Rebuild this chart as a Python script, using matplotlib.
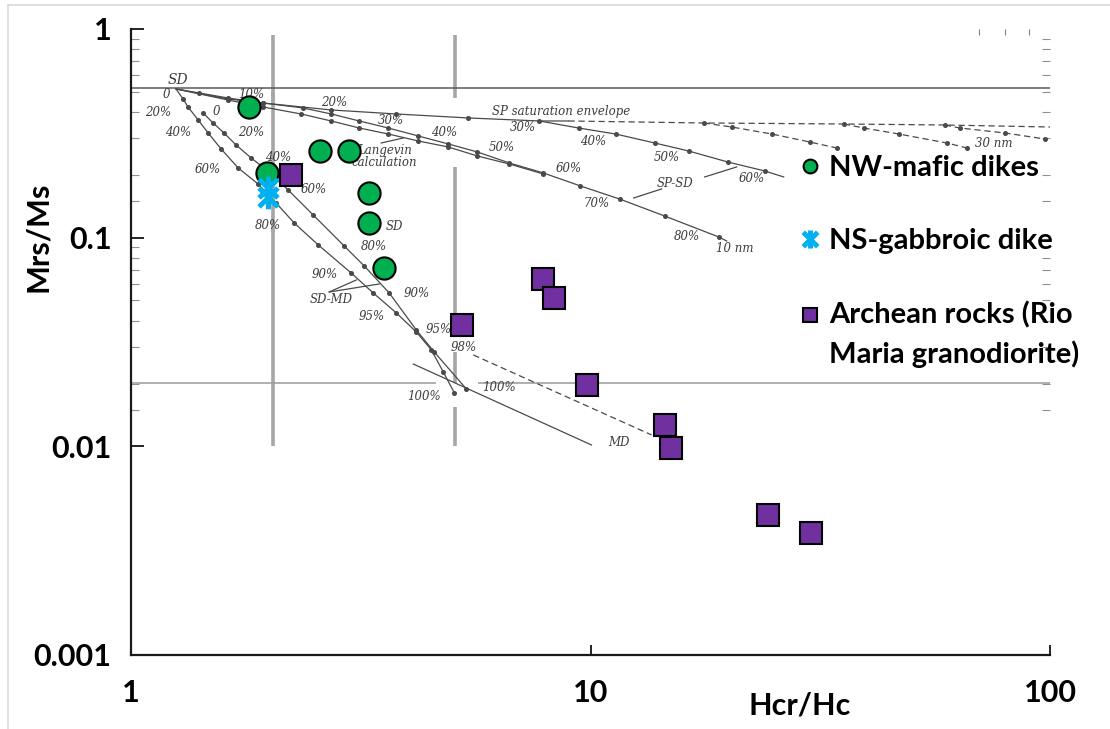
import numpy as np
import matplotlib
matplotlib.use("Agg")
import matplotlib.pyplot as plt
from matplotlib.path import Path
from matplotlib.patches import Rectangle
from matplotlib.ticker import FixedLocator, NullFormatter, FuncFormatter
from matplotlib.legend_handler import HandlerLine2D

# ---------------- sample data (Hcr/Hc, Mrs/Ms) ----------------
nw_hcr_hc = [1.81, 1.98, 2.58, 2.98, 3.29, 3.29, 3.55]
nw_mrs_ms = [0.423, 0.204, 0.260, 0.260, 0.163, 0.117, 0.0718]

ns_hcr_hc = [1.99, 1.99]
ns_mrs_ms = [0.173, 0.157]

ar_hcr_hc = [2.23, 7.90, 8.31, 5.24, 9.85, 14.5, 14.94, 24.3, 30.2]
ar_mrs_ms = [0.200, 0.0634, 0.0514, 0.0382, 0.0197, 0.0127, 0.0098, 0.00469, 0.00385]

series_labels = ["NW-mafic dikes", "NS-gabbroic dike", "Archean rocks (Rio\nMaria granodiorite)"]

# ---------------- background Day-plot reference curves (Dunlop 2002) ----------------
sdmd1_x = [1.253, 1.298, 1.331, 1.400, 1.472, 1.571, 1.711, 1.891, 2.070, 2.265, 2.556, 3.015,
           3.367, 3.779, 4.178, 4.504, 4.783, 5.055]
sdmd1_y = [0.516, 0.462, 0.423, 0.3664, 0.3174, 0.2661, 0.2158, 0.1808, 0.1466, 0.1176, 0.0923,
           0.0677, 0.0543, 0.0436, 0.0353, 0.0290, 0.0227, 0.01803]
sdmd2_x = [1.435, 1.509, 1.594, 1.693, 1.826, 1.999, 2.198, 2.492, 2.911, 3.218, 3.648, 4.178,
           4.572, 5.368]
sdmd2_y = [0.3958, 0.3545, 0.3174, 0.2781, 0.2409, 0.2065, 0.1693, 0.1284, 0.0912, 0.0732,
           0.0543, 0.0361, 0.0283, 0.01884]
md_x = [4.116, 10.05]
md_y = [0.0248, 0.01015]
md_dash_x = [5.561, 13.58]
md_dash_y = [0.0274, 0.01134]

envelope_x = [1.253, 1.406, 1.627, 1.940, 2.728, 3.779, 5.423, 7.742, 8.956]
envelope_y = [0.516, 0.4937, 0.467, 0.4419, 0.4092, 0.3915, 0.3747, 0.3624, 0.3624]
envelope_dash_x = [8.956, 17.63, 35.58, 59.04, 100.0]
envelope_dash_y = [0.3624, 0.3545, 0.3506, 0.3467, 0.3391]

spsd10a_x = [1.253, 1.627, 1.940, 2.370, 2.728, 3.139, 3.630, 4.220, 4.906, 5.674, 6.661, 7.899,
             9.511, 11.57, 14.50, 19.01, 19.79]
spsd10a_y = [0.516, 0.462, 0.4419, 0.4183, 0.3915, 0.3624, 0.3354, 0.3071, 0.2812, 0.2574,
             0.2280, 0.2042, 0.1769, 0.1532, 0.1270, 0.1008, 0.0964]
spsd10b_x = [1.253, 1.627, 1.940, 2.346, 2.728, 3.139, 3.630, 4.220, 4.906, 5.674, 6.661, 7.899]
spsd10b_y = [0.516, 0.4567, 0.4229, 0.3915, 0.3624, 0.3354, 0.3139, 0.2906, 0.2720, 0.2463,
             0.2254, 0.2019]
spsd_mid_x = [7.742, 9.417, 11.34, 13.79, 16.35, 19.89, 23.94, 26.33]
spsd_mid_y = [0.3624, 0.3354, 0.3139, 0.2843, 0.2603, 0.2305, 0.2088, 0.1954]
spsd_d1_x = [17.63, 20.29, 24.80, 30.00, 34.35]
spsd_d1_y = [0.3545, 0.3391, 0.3139, 0.2874, 0.2690]
spsd_d2_x = [35.58, 39.33, 46.88, 59.64, 65.95]
spsd_d2_y = [0.3506, 0.3354, 0.3139, 0.2843, 0.2690]
spsd_d3_x = [59.04, 63.67, 79.80, 97.52]
spsd_d3_y = [0.3467, 0.3354, 0.3174, 0.2971]

leader_x = [[3.504, 3.914], [17.72, 20.80], [12.41, 14.28], [2.700, 3.092], [2.700, 3.470]]
leader_y = [[0.2843, 0.3004], [0.1954, 0.2182], [0.1549, 0.1712], [0.0549, 0.0627], [0.0549, 0.0600]]

bg_label_text = ["0", "20%", "40%", "60%", "80%", "90%", "95%", "100%",
                 "0", "20%", "40%", "60%", "80%", "90%", "95%", "98%", "100%", "MD", "SD-MD", "SD",
                 "10%", "20%", "30%", "40%", "50%", "60%", "70%", "80%", "10 nm",
                 "Langevin", "calculation", "SP saturation envelope",
                 "30%", "40%", "50%", "60%", "SP-SD", "30 nm"]
bg_label_x = [1.192, 1.145, 1.266, 1.472, 1.988, 2.634, 3.333, 4.348,
              1.532, 1.826, 2.090, 2.504, 3.383, 4.178, 4.665, 5.289, 6.336, 11.51, 2.728, 3.741,
              1.826, 2.769, 3.686, 4.807, 6.400, 8.956, 10.31, 16.19, 20.59,
              3.558, 3.558, 8.647,
              7.145, 10.15, 14.64, 22.43, 15.24, 75.5]
bg_label_y = [0.488, 0.400, 0.3174, 0.2111, 0.1138, 0.0663, 0.0417, 0.01725,
              0.4002, 0.3209, 0.2435, 0.1693, 0.0912, 0.0543, 0.0365, 0.0296, 0.01905, 0.01038, 0.0508, 0.1125,
              0.488, 0.4468, 0.3624, 0.3174, 0.2690, 0.2134, 0.1450, 0.1008, 0.0892,
              0.2610, 0.2280, 0.4002,
              0.3354, 0.2874, 0.2435, 0.1911, 0.1808, 0.2830]
sd_label = ("SD", 1.266, 0.569)

# guide lines of the reference diagram
vline_x = [2.034, 5.063]
vline2_lo = [0.4468, 0.1065, 0.01004]
vline2_hi = [0.936, 0.4990, 0.1216]
vline5_lo = [0.467, 0.0390, 0.0201, 0.01004]
vline5_hi = [0.936, 0.2182, 0.0283, 0.01545]
hline_y = [0.5215, 0.0201]
hline2_lo = [1.0, 5.70]
hline2_hi = [4.60, 100.0]
bg_minor_y = [0.015, 0.02, 0.03, 0.04, 0.05, 0.06, 0.07, 0.08, 0.09,
              0.15, 0.2, 0.3, 0.4, 0.5, 0.6, 0.7, 0.8, 0.9]
bg_minor_x = [70, 80, 90]


class HandlerShift(HandlerLine2D):
    """Line2D legend handler whose marker is moved up (to sit on a label's first line)."""

    def __init__(self, dy, **kw):
        super().__init__(**kw)
        self.dy = dy

    def create_artists(self, legend, orig_handle, xdescent, ydescent, width, height,
                       fontsize, trans):
        arts = super().create_artists(legend, orig_handle, xdescent, ydescent, width, height,
                                      fontsize, trans)
        for a in arts:
            a.set_ydata(np.asarray(a.get_ydata(), dtype=float) + self.dy * fontsize)
        return arts


def _bigger_star(legline, orig):
    legline.update_from(orig)
    legline.set_markersize(21)


# ---------------- figure ----------------
W, H, DPI = 1110, 729, 100
fig = plt.figure(figsize=(W / DPI, H / DPI), dpi=DPI)
ax = fig.add_axes([131 / W, 1 - 655 / H, (1050 - 131) / W, (655 - 29) / H])
ax.set_xscale("log")
ax.set_yscale("log")
ax.set_xlim(1, 100)
ax.set_ylim(0.001, 1)

fig.patches.append(Rectangle((8 / W, -0.1), 2, 1.1 - 5 / H, transform=fig.transFigure,
                             fill=False, edgecolor="#d9d9d9", lw=1.2))

BG = "#4a4a4a"
# guide lines
ax.vlines([vline_x[0]] * len(vline2_lo), vline2_lo, vline2_hi, colors="#a6a6a6", lw=2.6, zorder=1)
ax.vlines([vline_x[1]] * len(vline5_lo), vline5_lo, vline5_hi, colors="#a6a6a6", lw=2.6, zorder=1)
ax.axhline(hline_y[0], color="#5a5a5a", lw=1.1, zorder=1)
ax.hlines([hline_y[1]] * 2, hline2_lo, hline2_hi, colors="#9a9a9a", lw=1.1, zorder=1)

dot = dict(color=BG, lw=0.9, marker="o", ms=2.6, zorder=2)
ax.plot(sdmd1_x, sdmd1_y, markevery=slice(1, None), **dot)
ax.plot(sdmd2_x, sdmd2_y, **dot)
ax.plot(md_x, md_y, color=BG, lw=0.9, zorder=2)
ax.plot(md_dash_x, md_dash_y, color=BG, lw=0.9, ls=(0, (5, 3)), zorder=2)
ax.plot(envelope_x, envelope_y, markevery=slice(1, -1), **dot)
ax.plot(envelope_dash_x, envelope_dash_y, ls=(0, (5, 3)), markevery=slice(1, -1), **dot)
ax.plot(spsd10a_x, spsd10a_y, markevery=slice(1, -1), **dot)
ax.plot(spsd10b_x, spsd10b_y, markevery=slice(1, None), **dot)
ax.plot(spsd_mid_x, spsd_mid_y, markevery=slice(1, -1), **dot)
for xs, ys in [(spsd_d1_x, spsd_d1_y), (spsd_d2_x, spsd_d2_y), (spsd_d3_x, spsd_d3_y)]:
    ax.plot(xs, ys, ls=(0, (5, 3)), markevery=slice(1, None), **dot)
for xs, ys in zip(leader_x, leader_y):
    ax.plot(xs, ys, color=BG, lw=0.9, zorder=2)

for s, x, y in zip(bg_label_text, bg_label_x, bg_label_y):
    ax.text(x, y, s, family="DejaVu Serif", style="italic", fontsize=8.5, color="#3c3c3c",
            ha="center", va="center", zorder=2)
ax.text(sd_label[1], sd_label[2], sd_label[0], family="DejaVu Serif", style="italic",
        fontsize=10, color="#3c3c3c", ha="center", va="center", zorder=2)

# ---------------- data series ----------------
star = Path([(-1, -1), (1, 1), (-1, 1), (1, -1), (0, -1.25), (0, 1.25)],
            [Path.MOVETO, Path.LINETO, Path.MOVETO, Path.LINETO, Path.MOVETO, Path.LINETO])

h1, = ax.plot(nw_hcr_hc, nw_mrs_ms, ls="none", marker="o", ms=16, mfc="#00b050", mec="black",
              mew=1.5, zorder=5)
h2, = ax.plot(ns_hcr_hc, ns_mrs_ms, ls="none", marker=star, ms=17, mec="#00b0f0", mfc="none",
              mew=3.6, zorder=6)
h3, = ax.plot(ar_hcr_hc, ar_mrs_ms, ls="none", marker="s", ms=16.5, mfc="#7030a0", mec="black",
              mew=1.5, zorder=7)

# ---------------- axes styling ----------------
TF = dict(family="Lato", weight="bold")
ax.spines["top"].set_visible(False)
ax.spines["right"].set_visible(False)
for sp in ("left", "bottom"):
    ax.spines[sp].set_linewidth(1.6)
    ax.spines[sp].set_color("#1a1a1a")

ax.xaxis.set_major_locator(FixedLocator([1, 10, 100]))
ax.yaxis.set_major_locator(FixedLocator([0.001, 0.01, 0.1, 1]))
fmt = FuncFormatter(lambda v, _: f"{v:g}")
ax.xaxis.set_major_formatter(fmt)
ax.yaxis.set_major_formatter(fmt)
ax.xaxis.set_minor_locator(FixedLocator(bg_minor_x))
ax.yaxis.set_minor_locator(FixedLocator(bg_minor_y))
ax.xaxis.set_minor_formatter(NullFormatter())
ax.yaxis.set_minor_formatter(NullFormatter())

ax.tick_params(axis="x", which="major", direction="in", length=7, width=1.2, pad=17,
               labelsize=22, top=False)
ax.tick_params(axis="x", which="minor", direction="in", length=4, width=0.8, color="#808080",
               bottom=False, top=True)
ax.tick_params(axis="y", which="major", direction="in", length=9, width=1.2, pad=14,
               labelsize=22, right=False)
ax.tick_params(axis="y", which="minor", direction="in", length=6, width=0.8, color="#909090",
               left=True, right=True)
for lab in ax.get_xticklabels() + ax.get_yticklabels():
    lab.set_fontfamily("Lato")
    lab.set_fontweight("bold")

ax.set_xlabel("Hcr/Hc", fontsize=22, **TF)
ax.xaxis.set_label_coords((800 - 131) / 919, (655 - 691) / 626)
ax.set_ylabel("Mrs/Ms", fontsize=22, **TF)
ax.yaxis.set_label_coords((52 - 131) / 919, (655 - 237) / 626)

leg = ax.legend([h1, h2, h3], series_labels, loc="upper left",
                bbox_to_anchor=((800 - 131) / 919, (655 - 155) / 626),
                frameon=False, markerscale=0.62, handlelength=0.7, handletextpad=0.3,
                labelspacing=1.62, borderaxespad=0, borderpad=0,
                handler_map={h2: HandlerLine2D(update_func=_bigger_star),
                             h3: HandlerShift(0.70)},
                prop=dict(family="Lato", weight="bold", size=21))
for t in leg.get_texts():
    t.set_linespacing(1.52)

fig.savefig("out.png", dpi=DPI)
